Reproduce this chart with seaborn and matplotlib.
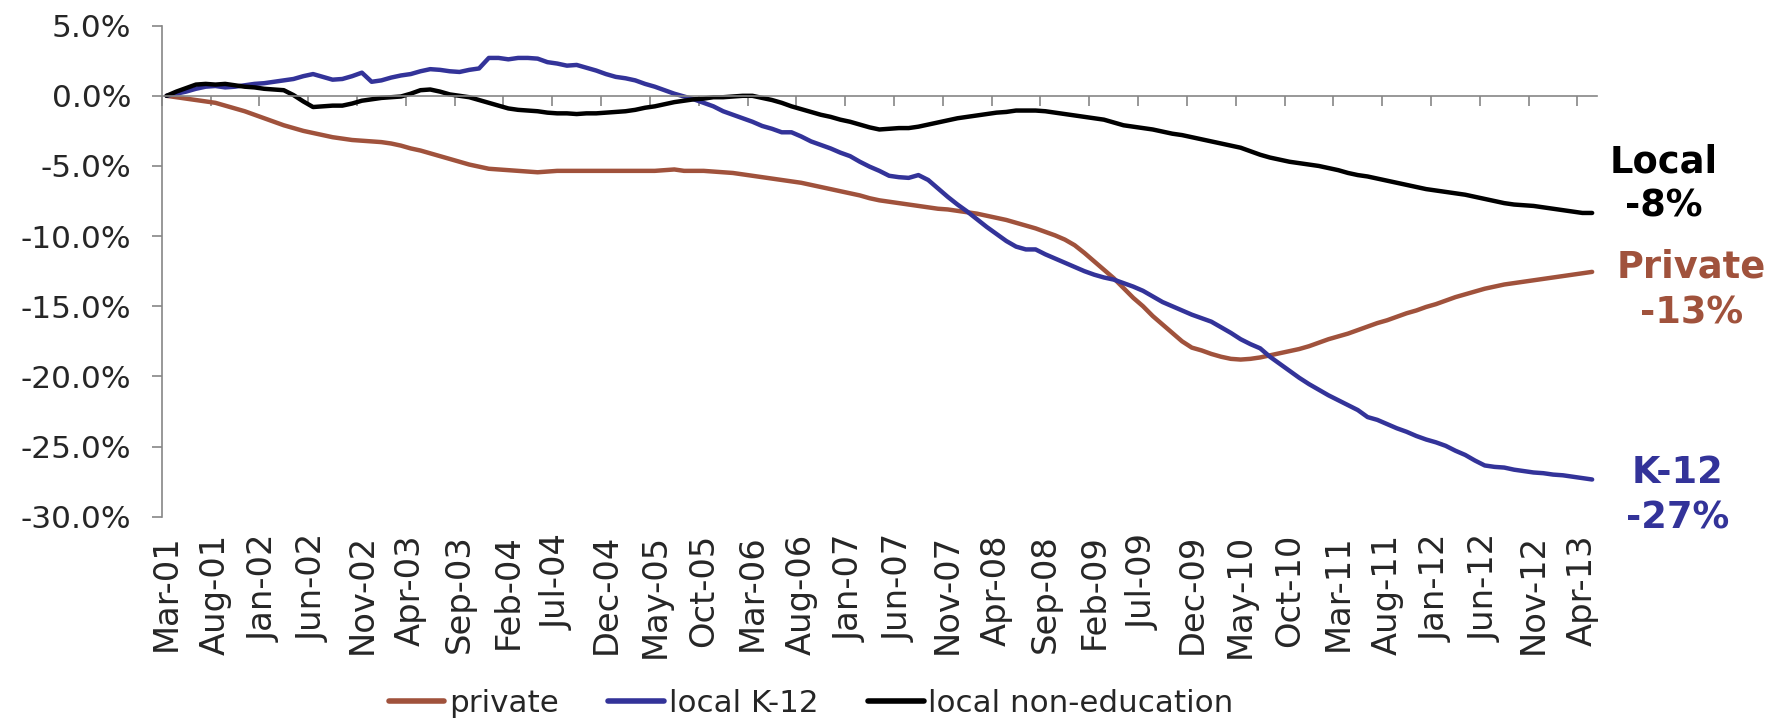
import numpy as np
import pandas as pd
import matplotlib
matplotlib.use("Agg")
import matplotlib.pyplot as plt
from matplotlib.ticker import FormatStrFormatter, FixedLocator
import seaborn as sns

# ---------------- data ----------------
start_month = "2001-03"
n_months = 147
months = pd.date_range(start_month, periods=n_months, freq="MS").strftime("%b-%y").tolist()

series_names = ["private", "local K-12", "local non-education"]

private = [
    0.0, -0.1, -0.2, -0.3, -0.4, -0.5, -0.7, -0.9, -1.1, -1.35,
    -1.6, -1.85, -2.1, -2.3, -2.5, -2.65, -2.8, -2.95, -3.05, -3.15,
    -3.2, -3.25, -3.3, -3.4, -3.55, -3.75, -3.9, -4.1, -4.3, -4.5,
    -4.7, -4.9, -5.05, -5.2, -5.25, -5.3, -5.35, -5.4, -5.45, -5.4,
    -5.35, -5.35, -5.35, -5.35, -5.35, -5.35, -5.35, -5.35, -5.35, -5.35,
    -5.35, -5.3, -5.25, -5.35, -5.35, -5.35, -5.4, -5.45, -5.5, -5.6,
    -5.7, -5.8, -5.9, -6.0, -6.1, -6.2, -6.35, -6.5, -6.65, -6.8,
    -6.95, -7.1, -7.3, -7.45, -7.55, -7.65, -7.75, -7.85, -7.95, -8.05,
    -8.1, -8.2, -8.3, -8.4, -8.55, -8.7, -8.85, -9.05, -9.25, -9.45,
    -9.7, -9.95, -10.25, -10.65, -11.2, -11.8, -12.4, -13.0, -13.7, -14.4,
    -15.0, -15.7, -16.3, -16.9, -17.5, -17.95, -18.15, -18.4, -18.6, -18.75,
    -18.8, -18.75, -18.65, -18.5, -18.35, -18.2, -18.05, -17.85, -17.6, -17.35,
    -17.15, -16.95, -16.7, -16.45, -16.2, -16.0, -15.75, -15.5, -15.3, -15.05,
    -14.85, -14.6, -14.35, -14.15, -13.95, -13.75, -13.6, -13.45, -13.35, -13.25,
    -13.15, -13.05, -12.95, -12.85, -12.75, -12.65, -12.55,
]

local_k12 = [
    0.0, 0.15, 0.3, 0.5, 0.65, 0.7, 0.6, 0.65, 0.75, 0.85,
    0.9, 1.0, 1.1, 1.2, 1.4, 1.55, 1.35, 1.15, 1.2, 1.4,
    1.65, 1.0, 1.1, 1.3, 1.45, 1.55, 1.75, 1.9, 1.85, 1.75,
    1.7, 1.85, 1.95, 2.7, 2.7, 2.6, 2.7, 2.7, 2.65, 2.4,
    2.3, 2.15, 2.2, 2.0, 1.8, 1.55, 1.35, 1.25, 1.1, 0.85,
    0.65, 0.4, 0.15, -0.05, -0.25, -0.5, -0.75, -1.1, -1.35, -1.6,
    -1.85, -2.15, -2.35, -2.6, -2.6, -2.9, -3.25, -3.5, -3.75, -4.05,
    -4.3, -4.7, -5.05, -5.35, -5.7, -5.8, -5.85, -5.65, -6.0, -6.6,
    -7.2, -7.75, -8.25, -8.8, -9.35, -9.85, -10.35, -10.75, -10.95, -10.95,
    -11.3, -11.6, -11.9, -12.2, -12.5, -12.75, -12.95, -13.1, -13.35, -13.6,
    -13.9, -14.3, -14.7, -15.0, -15.3, -15.6, -15.85, -16.1, -16.5, -16.9,
    -17.35, -17.7, -18.0, -18.6, -19.1, -19.6, -20.1, -20.55, -20.95, -21.35,
    -21.7, -22.05, -22.4, -22.9, -23.1, -23.4, -23.7, -23.95, -24.25, -24.5,
    -24.7, -24.95, -25.3, -25.6, -26.0, -26.35, -26.45, -26.5, -26.65, -26.75,
    -26.85, -26.9, -27.0, -27.05, -27.15, -27.25, -27.35,
]

local_non_ed = [
    0.0, 0.3, 0.55, 0.8, 0.85, 0.8, 0.85, 0.75, 0.65, 0.6,
    0.5, 0.45, 0.4, 0.05, -0.4, -0.8, -0.75, -0.7, -0.7, -0.55,
    -0.35, -0.25, -0.15, -0.1, -0.05, 0.15, 0.4, 0.45, 0.3, 0.1,
    0.0, -0.1, -0.3, -0.5, -0.7, -0.9, -1.0, -1.05, -1.1, -1.2,
    -1.25, -1.25, -1.3, -1.25, -1.25, -1.2, -1.15, -1.1, -1.0, -0.85,
    -0.75, -0.6, -0.45, -0.35, -0.25, -0.2, -0.1, -0.1, -0.05, 0.0,
    0.0, -0.15, -0.3, -0.5, -0.75, -0.95, -1.15, -1.35, -1.5, -1.7,
    -1.85, -2.05, -2.25, -2.4, -2.35, -2.3, -2.3, -2.2, -2.05, -1.9,
    -1.75, -1.6, -1.5, -1.4, -1.3, -1.2, -1.15, -1.05, -1.05, -1.05,
    -1.1, -1.2, -1.3, -1.4, -1.5, -1.6, -1.7, -1.9, -2.1, -2.2,
    -2.3, -2.4, -2.55, -2.7, -2.8, -2.95, -3.1, -3.25, -3.4, -3.55,
    -3.7, -3.95, -4.2, -4.4, -4.55, -4.7, -4.8, -4.9, -5.0, -5.15,
    -5.3, -5.5, -5.65, -5.75, -5.9, -6.05, -6.2, -6.35, -6.5, -6.65,
    -6.75, -6.85, -6.95, -7.05, -7.2, -7.35, -7.5, -7.65, -7.75, -7.8,
    -7.85, -7.95, -8.05, -8.15, -8.25, -8.35, -8.35,
]

y_ticks = [5, 0, -5, -10, -15, -20, -25, -30]
end_label_names = ["Private", "K-12", "Local"]
end_label_values = ["-13%", "-27%", "-8%"]

colors = {"private": "#A0523C", "local K-12": "#333399", "local non-education": "#000000"}

# ---------------- build frame ----------------
df = pd.concat([
    pd.DataFrame({"idx": np.arange(n_months), "value": vals, "series": name})
    for name, vals in zip(series_names, [private, local_k12, local_non_ed])
], ignore_index=True)

# ---------------- figure ----------------
sns.set_style("white")
plt.rcParams["font.family"] = ["DejaVu Sans"]

fig = plt.figure(figsize=(17.81, 7.19), dpi=100)
ax = fig.add_axes([0.0908, 0.2814, 0.8059, 0.6829])

sns.lineplot(data=df, x="idx", y="value", hue="series", hue_order=series_names,
             palette=colors, linewidth=3.2, ax=ax, legend=True)

ax.set_xlim(-0.5, n_months - 0.5)
ax.set_ylim(-30, 5)
ax.set_xlabel("")
ax.set_ylabel("")

grey = "#868686"
for side in ["top", "right"]:
    ax.spines[side].set_visible(False)
ax.spines["left"].set_color(grey)
ax.spines["left"].set_linewidth(1.2)
ax.spines["bottom"].set_position(("data", 0))
ax.spines["bottom"].set_color(grey)
ax.spines["bottom"].set_linewidth(1.2)

ax.yaxis.set_major_locator(FixedLocator(y_ticks))
ax.yaxis.set_major_formatter(FormatStrFormatter("%.1f%%"))
ax.tick_params(axis="y", direction="out", length=7, width=1.2, color=grey,
               labelsize=22.5, pad=15, left=True)

# tick marks between categories on the zero line
ax.xaxis.set_major_locator(FixedLocator(np.arange(-0.5, n_months - 1, 5)))
ax.tick_params(axis="x", direction="out", length=7, width=1.2, color=grey,
               labelbottom=False, bottom=True)

# category labels at bottom
sec = ax.secondary_xaxis("bottom")
sec.set_xticks(np.arange(0, n_months, 5), labels=months[::5])
sec.tick_params(axis="x", length=0, labelsize=24.3, labelrotation=90, pad=12.5)
sec.spines["bottom"].set_visible(False)

# end labels (two lines each, baselines offset in pixels from the series end)
end_series = [private, local_k12, local_non_ed]
x_offsets = [99, 85, 72]
line1_dy = [-5.6, -3.5, 40]
line2_dy = [-51.4, -49, -4]
for name, vals, t1, t2, dx, d1, d2 in zip(series_names, end_series, end_label_names,
                                          end_label_values, x_offsets, line1_dy, line2_dy):
    for txt, dy in ((t1, d1), (t2, d2)):
        ax.annotate(txt, xy=(n_months - 1, vals[-1]), xytext=(dx, dy),
                    textcoords="offset pixels", ha="center", va="baseline",
                    fontsize=26.5, fontweight="bold", color=colors[name],
                    annotation_clip=False)

# legend at the bottom
leg = ax.get_legend()
handles = leg.legend_handles
labels = [t.get_text() for t in leg.get_texts()]
leg.remove()
for h in handles:
    h.set_linewidth(4)
fig.legend(handles, labels, loc="center", bbox_to_anchor=(811 / 1781, 1 - 703 / 719),
           ncol=3, frameon=False, fontsize=22.3, handlelength=1.8, handletextpad=0.15,
           columnspacing=1.6)

fig.savefig("out.png", dpi=100)
